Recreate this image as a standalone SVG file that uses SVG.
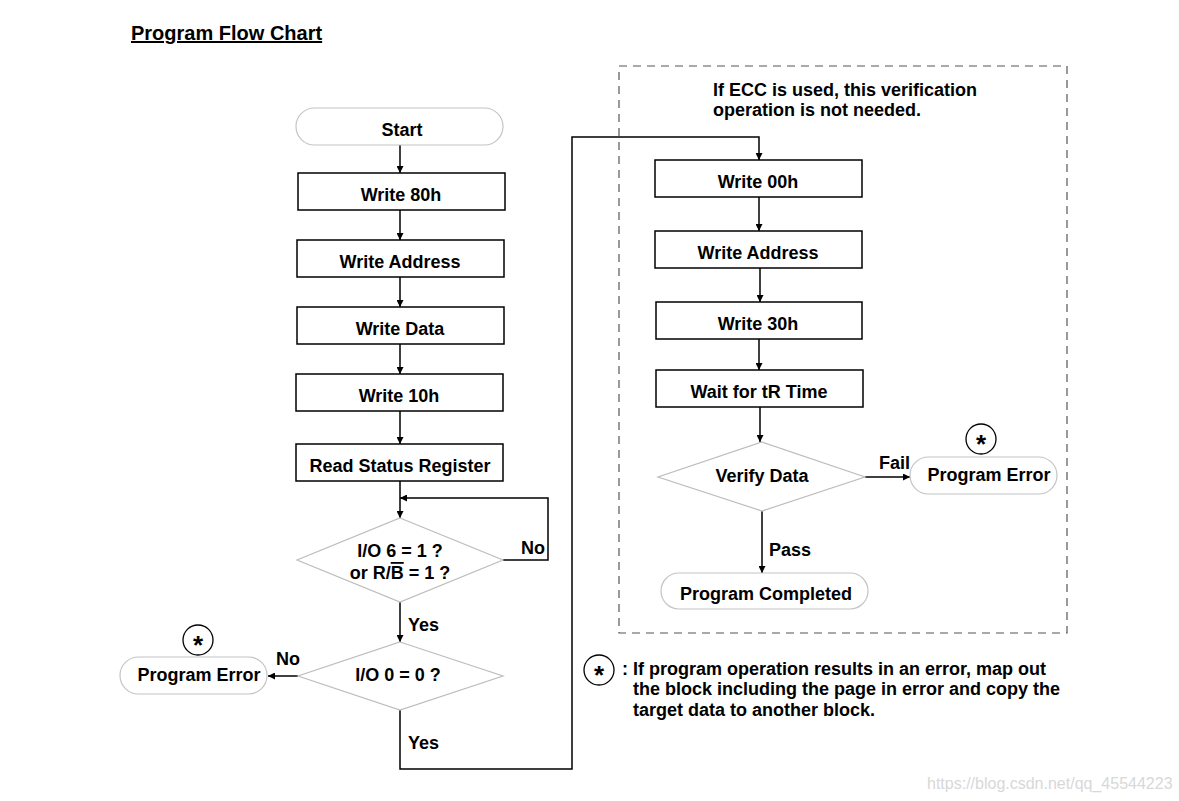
<svg xmlns="http://www.w3.org/2000/svg" width="1179" height="801" viewBox="0 0 1179 801">
<defs>
<marker id="ah" viewBox="0 0 10 10" refX="10" refY="5" markerWidth="7" markerHeight="7" markerUnits="userSpaceOnUse" orient="auto">
<path d="M0,0 L10,5 L0,10 z" fill="#000"/>
</marker>
<style>
text{font-family:"Liberation Sans",Arial,sans-serif;font-weight:bold;font-size:18px;fill:#000}
.c{text-anchor:middle}
.box{fill:#fff;stroke:#000;stroke-width:1.5}
.term{fill:#fff;stroke:#c4c4c4;stroke-width:1.2}
.dia{fill:#fff;stroke:#bdbdbd;stroke-width:1.2}
.ln{fill:none;stroke:#000;stroke-width:1.5}
.ar{fill:none;stroke:#000;stroke-width:1.5;marker-end:url(#ah)}
.star{fill:#fff;stroke:#000;stroke-width:1.3}
.st{font-size:26px;text-anchor:middle}
</style>
</defs>
<rect width="1179" height="801" fill="#fff"/>
<text x="131" y="40" style="font-size:20px;text-decoration:underline">Program Flow Chart</text>
<rect x="619" y="66" width="448" height="567" fill="none" stroke="#555" stroke-width="1.2" stroke-dasharray="8,6"/>
<text x="713" y="96">If ECC is used, this verification</text>
<text x="713" y="116">operation is not needed.</text>

<g id="connectors">
<path class="ar" d="M400,145 V173"/>
<path class="ar" d="M400,210 V240"/>
<path class="ar" d="M400,277 V307"/>
<path class="ar" d="M400,344 V374"/>
<path class="ar" d="M400,411 V444"/>
<path class="ar" d="M400,481 V518"/>
<path class="ar" d="M503,560 H548 V498 H400"/>
<path class="ar" d="M400,602 V642"/>
<path class="ar" d="M298,676 H268"/>
<path class="ar" d="M400,710 V769 H572 V137 H759 V160"/>
<path class="ar" d="M759,197 V231"/>
<path class="ar" d="M760,268 V302"/>
<path class="ar" d="M759,339 V370"/>
<path class="ar" d="M760,407 V442"/>
<path class="ar" d="M865,477 H910"/>
<path class="ar" d="M762,511 V573"/>
<text x="521" y="554">No</text>
<text x="408" y="631">Yes</text>
<text x="276" y="665">No</text>
<text x="408" y="749">Yes</text>
<text x="879" y="469">Fail</text>
<text x="769" y="556">Pass</text>
</g>

<g id="start"><rect class="term" x="296" y="108" width="207" height="37" rx="18.5"/><text class="c" x="402" y="136">Start</text></g>
<g id="write80"><rect class="box" x="298" y="173" width="207" height="37"/><text class="c" x="401" y="201">Write 80h</text></g>
<g id="writeaddr1"><rect class="box" x="297" y="240" width="207" height="37"/><text class="c" x="400" y="268">Write Address</text></g>
<g id="writedata"><rect class="box" x="297" y="307" width="207" height="37"/><text class="c" x="400" y="335">Write Data</text></g>
<g id="write10"><rect class="box" x="296" y="374" width="207" height="37"/><text class="c" x="399" y="402">Write 10h</text></g>
<g id="readstatus"><rect class="box" x="296" y="444" width="207" height="37"/><text class="c" x="400" y="472">Read Status Register</text></g>
<g id="dec1"><path class="dia" d="M400,518 L503,560 L400,602 L297,560 Z"/><text class="c" x="400" y="557">I/O 6 = 1 ?</text><text class="c" x="400" y="579">or R/<tspan style="text-decoration:overline">B</tspan> = 1 ?</text></g>
<g id="dec2"><path class="dia" d="M400,642 L503,676 L400,710 L298,676 Z"/><text class="c" x="398" y="681">I/O 0 = 0 ?</text></g>
<g id="err1"><rect class="term" x="120" y="657" width="147" height="37" rx="18.5"/><text class="c" x="199" y="681">Program Error</text><circle class="star" cx="198" cy="640" r="15"/><text class="st" x="198" y="654">*</text></g>

<g id="write00"><rect class="box" x="655" y="160" width="207" height="37"/><text class="c" x="758" y="188">Write 00h</text></g>
<g id="writeaddr2"><rect class="box" x="655" y="231" width="207" height="37"/><text class="c" x="758" y="259">Write Address</text></g>
<g id="write30"><rect class="box" x="656" y="302" width="206" height="37"/><text class="c" x="758" y="330">Write 30h</text></g>
<g id="wait"><rect class="box" x="656" y="370" width="207" height="37"/><text class="c" x="759" y="398">Wait for tR Time</text></g>
<g id="verify"><path class="dia" d="M762,442 L865,477 L762,511 L658,477 Z"/><text class="c" x="762" y="482">Verify Data</text></g>
<g id="err2"><rect class="term" x="910" y="457" width="147" height="37" rx="18.5"/><text class="c" x="989" y="481">Program Error</text><circle class="star" cx="981" cy="439" r="15"/><text class="st" x="981" y="453">*</text></g>
<g id="done"><rect class="term" x="661" y="573" width="207" height="36" rx="18"/><text class="c" x="766" y="600">Program Completed</text></g>

<g id="legend">
<circle class="star" cx="599" cy="670" r="15"/><text class="st" x="599" y="684">*</text>
<text x="622" y="675">: If program operation results in an error, map out</text>
<text x="633" y="695">the block including the page in error and copy the</text>
<text x="633" y="716">target data to another block.</text>
</g>
<text x="927" y="789" style="font-weight:normal;font-size:16px;fill:#d8d8d8">https://blog.csdn.net/qq_45544223</text>
</svg>
